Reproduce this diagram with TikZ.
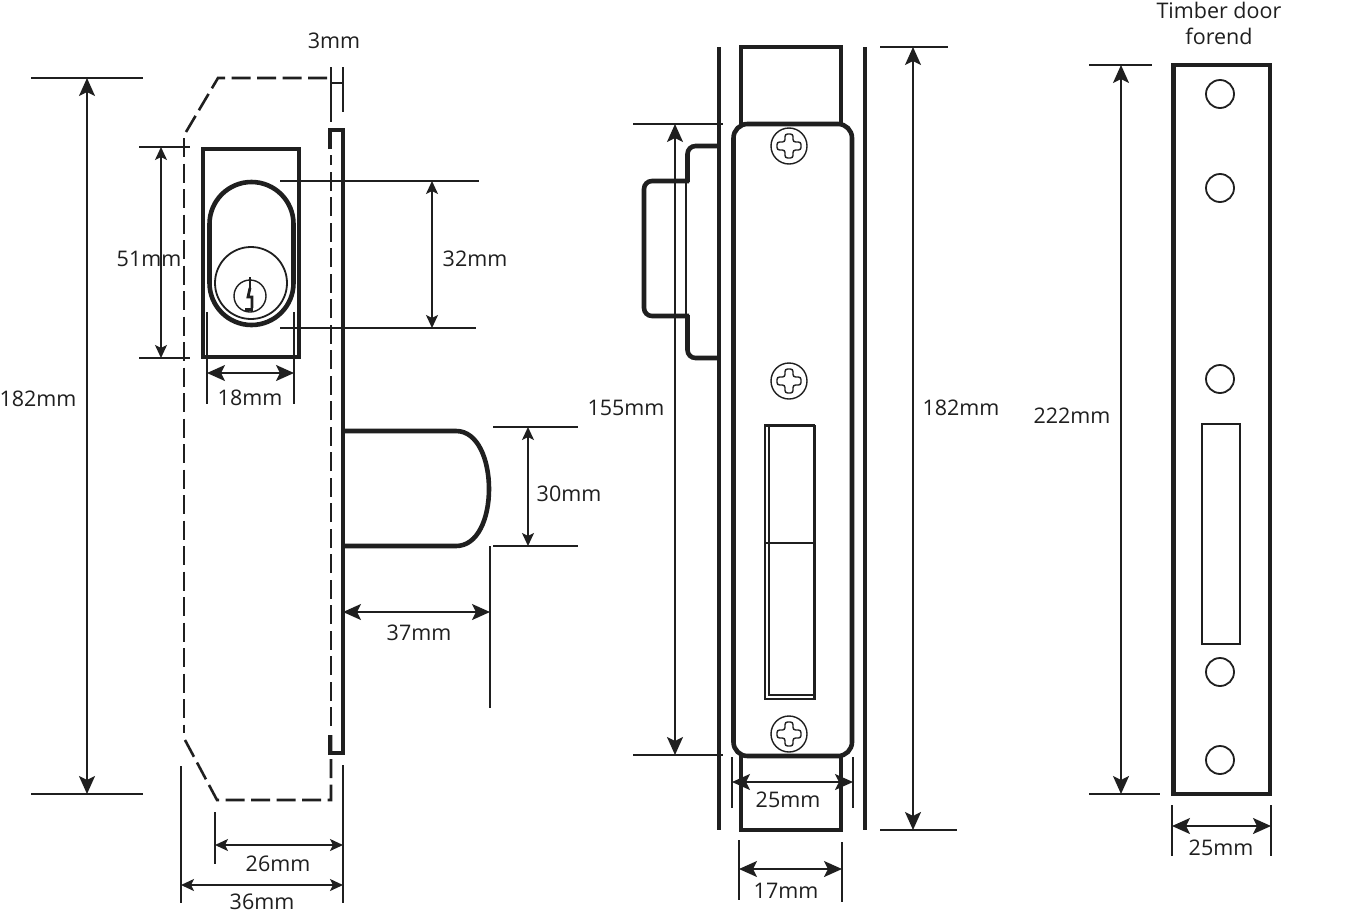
\documentclass[tikz,border=0pt]{standalone}
\usepackage{fontspec}
\setmainfont{Open Sans}
\usetikzlibrary{arrows.meta}
\definecolor{ink}{gray}{0.12}
\tikzset{
  thick line/.style={line width=4.6pt,ink,line join=miter},
  plate line/.style={line width=4pt,ink,line join=miter},
  thin line/.style={line width=1.4pt,ink},
  dash line/.style={line width=2.6pt,ink,dash pattern=on 19pt off 6.5pt},
  dim/.style={line width=1.8pt,ink,{Stealth[length=18pt,width=16pt,inset=4pt]}-{Stealth[length=18pt,width=16pt,inset=4pt]}},
  dim small/.style={line width=1.6pt,ink,{Stealth[length=13pt,width=12pt,inset=3pt]}-{Stealth[length=13pt,width=12pt,inset=3pt]}},
  ext/.style={line width=1.3pt,ink},
  lbl/.style={inner sep=0pt,font=\fontsize{21.5}{26}\selectfont,text=ink},
}
\begin{document}
\begin{tikzpicture}[x=1pt,y=-1pt]
\useasboundingbox (0,0) rectangle (1348,913);
\fill[white] (0,0) rectangle (1348,913);
% ---- left view ----
\draw[dash line] (327,78) -- (218,78) -- (186,132);
\draw[dash line] (184,138) -- (184,733);
\draw[dash line] (185,740) -- (217,800) -- (331,800) -- (331,735);
\draw[dash line] (331,726) -- (331,155);
\draw[plate line] (330,149) -- (330,130) -- (343,130) -- (343,753) -- (330,753) -- (330,735);
\draw[thick line] (203,149) rectangle (299,357);
\draw[thick line] (209.5,224) arc[start angle=180,end angle=360,radius=42] -- (293.5,283) arc[start angle=0,end angle=180,radius=42] -- cycle;
\draw[thin line,line width=1.8pt] (251,283) circle (36);
\draw[thin line] (250,296) circle (16);
\draw[ink,line width=1.6pt] (250,277) -- (250,289);
\draw[ink,line width=2.8pt,line join=miter] (250,288) -- (248,297) -- (252,297) -- (252,308);
\draw[ink,line width=3pt] (245,309) -- (253,309);
\draw[thick line] (343,431) -- (456,431) .. controls (478,431) and (489,460) .. (489,489) .. controls (489,518) and (478,546) .. (456,546) -- (343,546);
% dims left
\draw[ext] (31,78) -- (143,78) (31,794) -- (143,794);
\draw[dim] (87,78) -- (87,794);
\node[lbl] (a1) at (38,399) {182mm};
\draw[ext] (139,147) -- (190,147) (139,358) -- (190,358);
\draw[dim small] (161,147) -- (161,358);
\node[lbl] (a2) at (149,259) {51mm};
\draw[ext] (280,181) -- (479,181) (280,328) -- (476,328);
\draw[dim small] (432,181) -- (432,328);
\node[lbl] (a3) at (475,259) {32mm};
\draw[ext] (207,312) -- (207,404) (294,312) -- (294,404);
\draw[dim] (207,373) -- (294,373);
\node[lbl] (a4) at (250,398) {18mm};
\draw[ext] (331,67) -- (331,122) (343,67) -- (343,112) (331,83) -- (343,83);
\node[lbl] (a5) at (334,41) {3mm};
\draw[ext] (493,427) -- (578,427) (493,546) -- (578,546);
\draw[dim small] (528,427) -- (528,546);
\node[lbl] (a6) at (569,494) {30mm};
\draw[ext] (490,546) -- (490,708);
\draw[dim] (343,612) -- (490,612);
\node[lbl] (a7) at (419,633) {37mm};
\draw[ext] (215,812) -- (215,864) (343,765) -- (343,903) (181,766) -- (181,903);
\draw[dim small] (215,845) -- (343,845);
\node[lbl] (a8) at (278,864) {26mm};
\draw[dim small] (181,885) -- (343,885);
\node[lbl] (a9) at (262,902) {36mm};
% ---- middle view ----
\draw[plate line] (719,47) -- (719,830) (865,47) -- (865,830);
\draw[thick line] (741,124) -- (741,47) -- (841,47) -- (841,124);
\draw[thick line] (741,756) -- (741,830) -- (841,830) -- (841,756);
\draw[thick line,rounded corners=14pt] (733.5,124) rectangle (852,756);
\draw[thick line,rounded corners=8pt] (717,146) -- (687.5,146) -- (687.5,182);
\draw[thick line,rounded corners=8pt] (689,181) -- (644,181) -- (644,316) -- (689,316);
\draw[thick line,rounded corners=8pt] (687.5,315) -- (687.5,358) -- (717,358);
\draw[thin line] (686,181) -- (686,316);
\foreach \n/\y in {s1/146,s2/381,s3/734}{
  \draw[thin line] (789,\y) circle (18);
  \draw[thin line,rounded corners=2.5pt] (785,\y-12) -- (793,\y-12) -- (793,\y-4) -- (801,\y-4) -- (801,\y+4) -- (793,\y+4) -- (793,\y+12) -- (785,\y+12) -- (785,\y+4) -- (777,\y+4) -- (777,\y-4) -- (785,\y-4) -- cycle;
}
\draw[ext] (765,424) -- (765,699);
\draw[ink,line width=3pt] (764,425) -- (815,425);
\draw[ink,line width=2.4pt] (814.5,425) -- (814.5,699) -- (764,699);
\draw[ink,line width=2pt] (768.5,425) -- (768.5,695) -- (814,695);
\draw[ink,line width=1.8pt] (765,543) -- (814,543);
\draw[ext] (633,124) -- (723,124) (633,755) -- (723,755);
\draw[dim] (675,124) -- (675,755);
\node[lbl] (b1) at (626,408) {155mm};
\draw[ext] (880,47) -- (948,47) (880,830) -- (957,830);
\draw[dim] (913,47) -- (913,830);
\node[lbl] (b2) at (961,408) {182mm};
\draw[ext] (732,757) -- (732,808) (853,757) -- (853,808);
\draw[dim] (732,782) -- (853,782);
\node[lbl] (b3) at (788,800) {25mm};
\draw[ext] (739,840) -- (739,900) (842,842) -- (842,902);
\draw[dim] (739,869) -- (842,869);
\node[lbl] (b4) at (786,891) {17mm};
% ---- right view ----
\draw[thick line] (1173.5,65) rectangle (1270,794);
\foreach \y in {94,188,379,672,760}{\draw[ext,line width=1.8pt] (1220,\y) circle (14);}
\draw[ink,line width=2pt] (1202,424) rectangle (1240,644);
\draw[ext] (1089,65) -- (1152,65) (1089,794) -- (1160,794);
\draw[dim] (1121,65) -- (1121,794);
\node[lbl] (c1) at (1072,416) {222mm};
\draw[ext] (1172,805) -- (1172,856) (1271,805) -- (1271,856);
\draw[dim] (1172,826) -- (1271,826);
\node[lbl] (c2) at (1221,848) {25mm};
\node[lbl,align=center] (c3) at (1219,23) {Timber door\\forend};
\end{tikzpicture}
\end{document}
